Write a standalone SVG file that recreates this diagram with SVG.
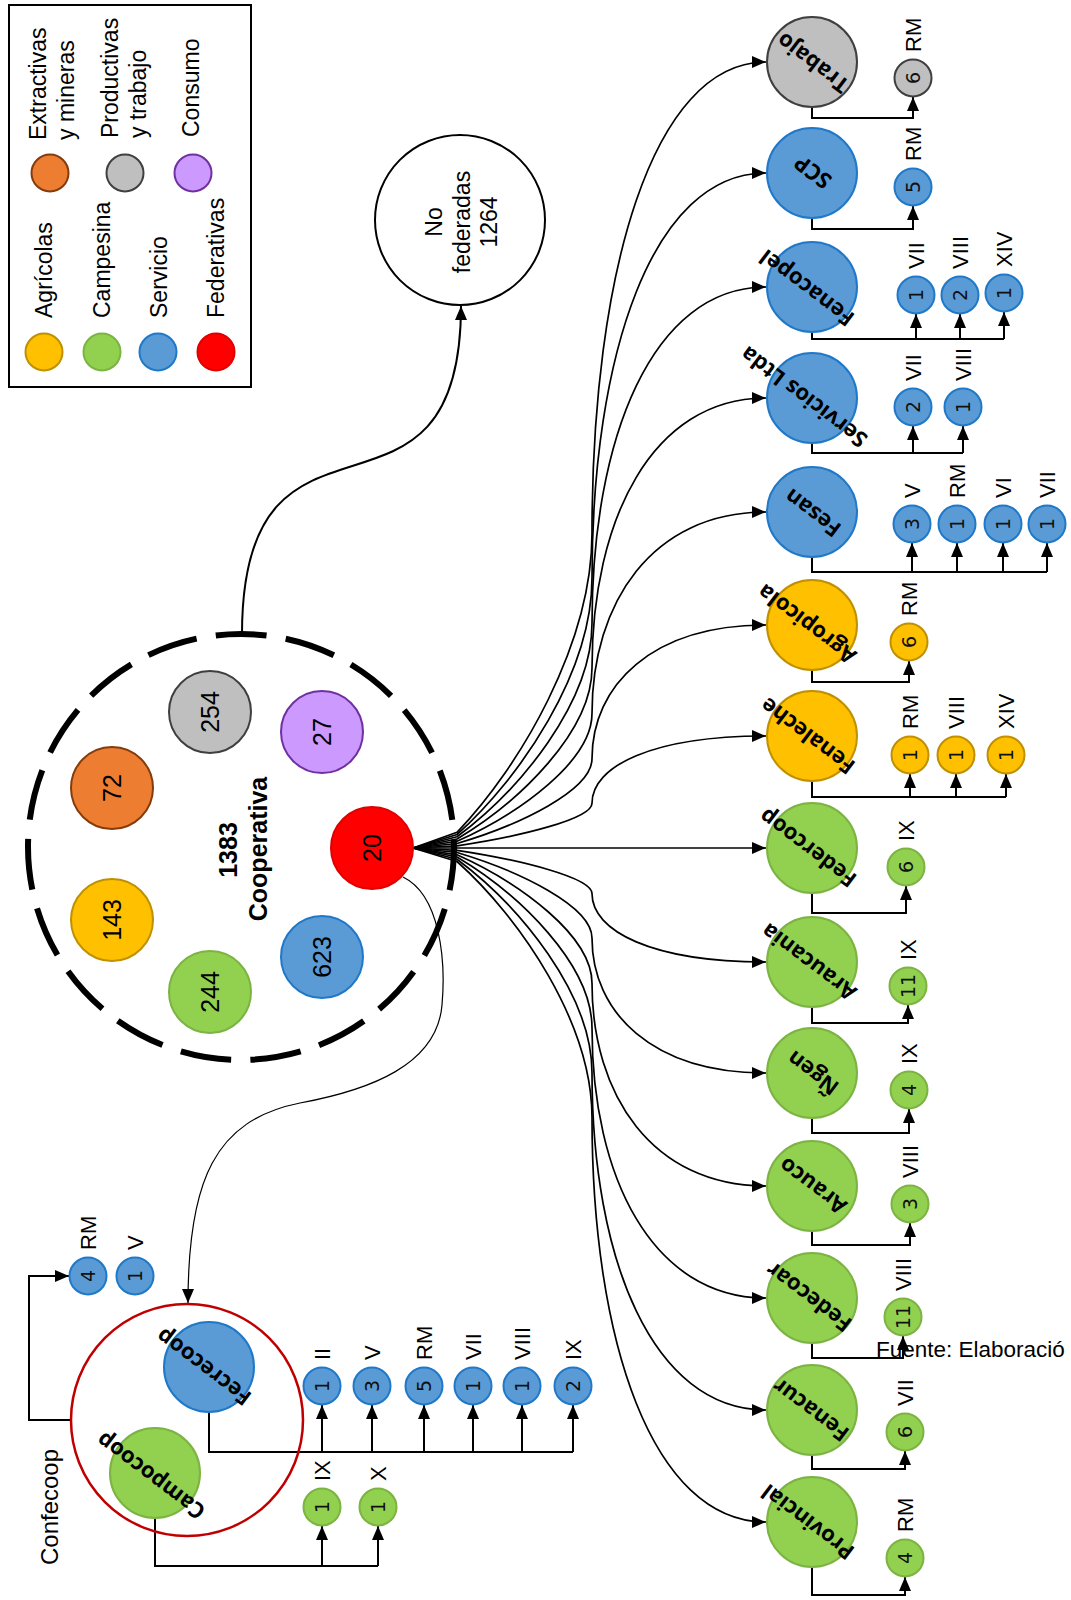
<svg xmlns="http://www.w3.org/2000/svg" width="1071" height="1600" viewBox="0 0 1071 1600">
<defs>
<marker id="ah" viewBox="0 0 14 12" refX="14" refY="6" markerWidth="14" markerHeight="12" markerUnits="userSpaceOnUse" orient="auto"><path d="M0,0 L14,6 L0,12 z" fill="#000"/></marker>
<style>
.yel{fill:#ffc000;stroke:#bf9000;stroke-width:2}
.grn{fill:#92d050;stroke:#7cb342;stroke-width:2}
.blu{fill:#5b9bd5;stroke:#1f78c8;stroke-width:2}
.red{fill:#ff0000;stroke:#e00000;stroke-width:2}
.org{fill:#ed7d31;stroke:#843c0c;stroke-width:2}
.gry{fill:#bfbfbf;stroke:#3f3f3f;stroke-width:2}
.pur{fill:#cc99ff;stroke:#7030a0;stroke-width:2}
.lbl{font-family:"Liberation Sans",Arial,sans-serif;font-size:22px;fill:#000}
.leg{font-family:"Liberation Sans",Arial,sans-serif;font-size:23px;fill:#000}
.num{font-family:"DejaVu Sans",sans-serif;font-size:19px;fill:#111;text-anchor:middle;dominant-baseline:central}
.inn{font-family:"Liberation Sans",Arial,sans-serif;font-size:25px;fill:#000;text-anchor:middle;dominant-baseline:central}
.big{font-family:"Open Sans","DejaVu Sans",sans-serif;font-weight:bold;font-size:22px;fill:#000;text-anchor:middle;dominant-baseline:central}
.cn{fill:none;stroke:#000;stroke-width:2}
.ar{fill:none;stroke:#000;stroke-width:2;marker-end:url(#ah)}
.fan{fill:none;stroke:#000;stroke-width:1.7;marker-end:url(#ah)}
</style>
</defs>
<rect width="1071" height="1600" fill="#fff"/>

<g id="legend">
<rect x="9" y="5" width="242" height="382" fill="#fff" stroke="#000" stroke-width="2"/>
<circle class="org" cx="50" cy="173" r="18.5"/>
<circle class="gry" cx="125" cy="173" r="18.5"/>
<circle class="pur" cx="193" cy="173" r="18.5"/>
<circle class="yel" cx="44" cy="352" r="18.5"/>
<circle class="grn" cx="102" cy="352" r="18.5"/>
<circle class="blu" cx="158" cy="352" r="18.5"/>
<circle class="red" cx="216" cy="352" r="18.5"/>
<text class="leg" transform="translate(46,140) rotate(-90)">Extractivas</text>
<text class="leg" transform="translate(74,140) rotate(-90)">y mineras</text>
<text class="leg" transform="translate(118,138) rotate(-90)">Productivas</text>
<text class="leg" transform="translate(146,138) rotate(-90)">y trabajo</text>
<text class="leg" transform="translate(199,137) rotate(-90)">Consumo</text>
<text class="leg" transform="translate(52,318) rotate(-90)">Agrícolas</text>
<text class="leg" transform="translate(110,318) rotate(-90)">Campesina</text>
<text class="leg" transform="translate(167,318) rotate(-90)">Servicio</text>
<text class="leg" transform="translate(224,318) rotate(-90)">Federativas</text>
</g>

<g id="connectors">
<path class="ar" d="M242,634 C242,370 461,560 461,306"/>
<path fill="none" stroke="#000" stroke-width="1.2" marker-end="url(#ah)" d="M403,877 C440,895 446,960 442,1005 C437,1065 370,1090 300,1103 C215,1120 188,1180 188,1303"/>
<path class="fan" d="M413,848 L457,832.3 C520,766.6 592,644.1 592,533.6 C592,274.2 652,62 766,62"/>
<path class="fan" d="M413,848 L457,834.5 C520,778.1 592,672.9 592,578 C592,355.2 652,173 766,173"/>
<path class="fan" d="M413,848 L457,836.8 C520,789.9 592,702.5 592,623.6 C592,438.5 652,287 766,287"/>
<path class="fan" d="M413,848 L457,839 C520,801.4 592,731.3 592,668 C592,519.5 652,398 766,398"/>
<path class="fan" d="M413,848 L457,841.3 C520,813.2 592,760.8 592,713.6 C592,602.7 652,512 766,512"/>
<path class="fan" d="M413,848 L457,843.5 C520,824.9 592,790.1 592,758.8 C592,685.2 652,625 766,625"/>
<path class="fan" d="M413,848 L457,845.8 C520,836.4 592,819 592,803.2 C592,766.2 652,736 766,736"/>
<path class="fan" d="M413,848 L766,848"/>
<path class="fan" d="M413,848 L457,850.3 C520,859.8 592,877.6 592,893.6 C592,931.2 652,962 766,962"/>
<path class="fan" d="M413,848 L457,852.5 C520,871.3 592,906.4 592,938 C592,1012.3 652,1073 766,1073"/>
<path class="fan" d="M413,848 L457,854.8 C520,883 592,935.7 592,983.2 C592,1094.7 652,1186 766,1186"/>
<path class="fan" d="M413,848 L457,857 C520,894.6 592,964.7 592,1028 C592,1176.5 652,1298 766,1298"/>
<path class="fan" d="M413,848 L457,859.2 C520,906.2 592,993.8 592,1072.8 C592,1258.3 652,1410 766,1410"/>
<path class="fan" d="M413,848 L457,861.5 C520,917.8 592,1022.8 592,1117.6 C592,1340 652,1522 766,1522"/>
<path class="ar" d="M812,107 V118 H913 V97"/>
<path class="ar" d="M812,218 V229 H913 V206"/>
<path class="cn" d="M812,332 V339 H1004"/>
<path class="ar" d="M916,339 V314"/><path class="ar" d="M960,339 V314"/><path class="ar" d="M1004,339 V312"/>
<path class="cn" d="M812,443 V453 H963"/>
<path class="ar" d="M913,453 V426"/><path class="ar" d="M963,453 V426"/>
<path class="cn" d="M812,557 V572 H1047"/>
<path class="ar" d="M912,572 V543"/><path class="ar" d="M957,572 V543"/><path class="ar" d="M1003,572 V543"/><path class="ar" d="M1047,572 V543"/>
<path class="ar" d="M812,670 V682 H909 V661"/>
<path class="cn" d="M812,781 V797 H1006"/>
<path class="ar" d="M910,797 V774"/><path class="ar" d="M956,797 V774"/><path class="ar" d="M1006,797 V774"/>
<path class="ar" d="M812,893 V913 H906 V886"/>
<path class="ar" d="M812,1007 V1023 H908 V1005"/>
<path class="ar" d="M812,1118 V1133 H909 V1109"/>
<path class="ar" d="M812,1231 V1245 H910 V1223"/>
<path class="ar" d="M812,1343 V1358 H903 V1336"/>
<path class="ar" d="M812,1455 V1469 H905 V1451"/>
<path class="ar" d="M812,1567 V1595 H905 V1577"/>
<path class="cn" d="M209,1412 V1452 H573"/>
<path class="ar" d="M322,1452 V1405"/><path class="ar" d="M372,1452 V1405"/><path class="ar" d="M424,1452 V1405"/><path class="ar" d="M473,1452 V1405"/><path class="ar" d="M522,1452 V1405"/><path class="ar" d="M573,1452 V1405"/>
<path class="cn" d="M155,1518 V1566 H378"/>
<path class="ar" d="M322,1566 V1526"/><path class="ar" d="M378,1566 V1526"/>
<path class="ar" d="M71,1420 H29 V1276 H69"/>
</g>

<g id="cooperativa">
<circle cx="241" cy="847" r="213" fill="none" stroke="#000" stroke-width="6" stroke-dasharray="51 19.4" stroke-dashoffset="7.6"/>
<text font-family="Liberation Sans, Arial, sans-serif" font-weight="bold" font-size="25" text-anchor="middle" transform="translate(237,850) rotate(-90)">1383</text>
<text font-family="Liberation Sans, Arial, sans-serif" font-weight="bold" font-size="25" text-anchor="middle" transform="translate(267,849) rotate(-90)">Cooperativa</text>
</g>
<g id="n254"><circle class="gry" cx="210" cy="712" r="41"/><text class="inn" transform="translate(210,712) rotate(-90)">254</text></g>
<g id="n27"><circle class="pur" cx="322" cy="732" r="41"/><text class="inn" transform="translate(322,732) rotate(-90)">27</text></g>
<g id="n72"><circle class="org" cx="112" cy="788" r="41"/><text class="inn" transform="translate(112,788) rotate(-90)">72</text></g>
<g id="n20"><circle class="red" cx="372" cy="848" r="41"/><text class="inn" transform="translate(372,848) rotate(-90)">20</text></g>
<g id="n143"><circle class="yel" cx="112" cy="920" r="41"/><text class="inn" transform="translate(112,920) rotate(-90)">143</text></g>
<g id="n623"><circle class="blu" cx="322" cy="957" r="41"/><text class="inn" transform="translate(322,957) rotate(-90)">623</text></g>
<g id="n244"><circle class="grn" cx="210" cy="992" r="41"/><text class="inn" transform="translate(210,992) rotate(-90)">244</text></g>

<g id="nofederadas">
<circle cx="460" cy="220" r="85" fill="#fff" stroke="#000" stroke-width="2"/>
<text class="leg" text-anchor="middle" transform="translate(442,222) rotate(-90)">No</text>
<text class="leg" text-anchor="middle" transform="translate(470,222) rotate(-90)">federadas</text>
<text class="leg" text-anchor="middle" transform="translate(497,222) rotate(-90)">1264</text>
</g>

<g id="trabajo"><circle class="gry" cx="812" cy="62" r="45"/><text class="big" transform="translate(812,64) rotate(217)">Trabajo</text></g>
<g id="trabajo-rm"><circle class="gry" cx="913" cy="78" r="18.5"/><text class="num" transform="translate(913,78) rotate(-90)">6</text><text class="lbl" transform="translate(921,52) rotate(-90)">RM</text></g>

<g id="scp"><circle class="blu" cx="812" cy="173" r="45"/><text class="big" transform="translate(812,173) rotate(217)">SCP</text></g>
<g id="scp-rm"><circle class="blu" cx="913" cy="187" r="18.5"/><text class="num" transform="translate(913,187) rotate(-90)">5</text><text class="lbl" transform="translate(921,161) rotate(-90)">RM</text></g>

<g id="fenacopel"><circle class="blu" cx="812" cy="287" r="45"/><text class="big" transform="translate(806,289) rotate(217)">Fenacopel</text></g>
<g id="fenacopel-vii"><circle class="blu" cx="916" cy="295" r="18.5"/><text class="num" transform="translate(916,295) rotate(-90)">1</text><text class="lbl" transform="translate(924,269) rotate(-90)">VII</text></g>
<g id="fenacopel-viii"><circle class="blu" cx="960" cy="295" r="18.5"/><text class="num" transform="translate(960,295) rotate(-90)">2</text><text class="lbl" transform="translate(968,269) rotate(-90)">VIII</text></g>
<g id="fenacopel-xiv"><circle class="blu" cx="1004" cy="293" r="18.5"/><text class="num" transform="translate(1004,293) rotate(-90)">1</text><text class="lbl" transform="translate(1012,267) rotate(-90)">XIV</text></g>

<g id="servicios"><circle class="blu" cx="812" cy="398" r="45"/><text class="big" transform="translate(803,398) rotate(217)">Servicios Ltda</text></g>
<g id="servicios-vii"><circle class="blu" cx="913" cy="407" r="18.5"/><text class="num" transform="translate(913,407) rotate(-90)">2</text><text class="lbl" transform="translate(921,381) rotate(-90)">VII</text></g>
<g id="servicios-viii"><circle class="blu" cx="963" cy="407" r="18.5"/><text class="num" transform="translate(963,407) rotate(-90)">1</text><text class="lbl" transform="translate(971,381) rotate(-90)">VIII</text></g>

<g id="fesan"><circle class="blu" cx="812" cy="512" r="45"/><text class="big" transform="translate(812,514) rotate(217)">Fesan</text></g>
<g id="fesan-v"><circle class="blu" cx="912" cy="524" r="18.5"/><text class="num" transform="translate(912,524) rotate(-90)">3</text><text class="lbl" transform="translate(920,498) rotate(-90)">V</text></g>
<g id="fesan-rm"><circle class="blu" cx="957" cy="524" r="18.5"/><text class="num" transform="translate(957,524) rotate(-90)">1</text><text class="lbl" transform="translate(965,498) rotate(-90)">RM</text></g>
<g id="fesan-vi"><circle class="blu" cx="1003" cy="524" r="18.5"/><text class="num" transform="translate(1003,524) rotate(-90)">1</text><text class="lbl" transform="translate(1011,498) rotate(-90)">VI</text></g>
<g id="fesan-vii"><circle class="blu" cx="1047" cy="524" r="18.5"/><text class="num" transform="translate(1047,524) rotate(-90)">1</text><text class="lbl" transform="translate(1055,498) rotate(-90)">VII</text></g>

<g id="agropicola"><circle class="yel" cx="812" cy="625" r="45"/><text class="big" transform="translate(806,625) rotate(217)">Agropicola</text></g>
<g id="agropicola-rm"><circle class="yel" cx="909" cy="642" r="18.5"/><text class="num" transform="translate(909,642) rotate(-90)">6</text><text class="lbl" transform="translate(917,616) rotate(-90)">RM</text></g>

<g id="fenaleche"><circle class="yel" cx="812" cy="736" r="45"/><text class="big" transform="translate(807,737) rotate(217)">Fenaleche</text></g>
<g id="fenaleche-rm"><circle class="yel" cx="910" cy="755" r="18.5"/><text class="num" transform="translate(910,755) rotate(-90)">1</text><text class="lbl" transform="translate(918,729) rotate(-90)">RM</text></g>
<g id="fenaleche-viii"><circle class="yel" cx="956" cy="755" r="18.5"/><text class="num" transform="translate(956,755) rotate(-90)">1</text><text class="lbl" transform="translate(964,729) rotate(-90)">VIII</text></g>
<g id="fenaleche-xiv"><circle class="yel" cx="1006" cy="755" r="18.5"/><text class="num" transform="translate(1006,755) rotate(-90)">1</text><text class="lbl" transform="translate(1014,729) rotate(-90)">XIV</text></g>

<g id="federcoop"><circle class="grn" cx="812" cy="848" r="45"/><text class="big" transform="translate(807,849) rotate(217)">Federcoop</text></g>
<g id="federcoop-ix"><circle class="grn" cx="906" cy="867" r="18.5"/><text class="num" transform="translate(906,867) rotate(-90)">6</text><text class="lbl" transform="translate(914,841) rotate(-90)">IX</text></g>

<g id="araucania"><circle class="grn" cx="812" cy="962" r="45"/><text class="big" transform="translate(808,963) rotate(217)">Araucania</text></g>
<g id="araucania-ix"><circle class="grn" cx="908" cy="986" r="18.5"/><text class="num" transform="translate(908,986) rotate(-90)">11</text><text class="lbl" transform="translate(916,960) rotate(-90)">IX</text></g>

<g id="ngen"><circle class="grn" cx="812" cy="1073" r="45"/><text class="big" transform="translate(812,1074) rotate(217)">Ñgen</text></g>
<g id="ngen-ix"><circle class="grn" cx="909" cy="1090" r="18.5"/><text class="num" transform="translate(909,1090) rotate(-90)">4</text><text class="lbl" transform="translate(917,1064) rotate(-90)">IX</text></g>

<g id="arauco"><circle class="grn" cx="812" cy="1186" r="45"/><text class="big" transform="translate(812,1187) rotate(217)">Arauco</text></g>
<g id="arauco-viii"><circle class="grn" cx="910" cy="1204" r="18.5"/><text class="num" transform="translate(910,1204) rotate(-90)">3</text><text class="lbl" transform="translate(918,1178) rotate(-90)">VIII</text></g>

<g id="fedecoar"><circle class="grn" cx="812" cy="1298" r="45"/><text class="big" transform="translate(808,1298) rotate(217)">Fedecoar</text></g>
<g id="fedecoar-viii"><circle class="grn" cx="903" cy="1317" r="18.5"/><text class="num" transform="translate(903,1317) rotate(-90)">11</text><text class="lbl" transform="translate(911,1291) rotate(-90)">VIII</text></g>

<g id="fenacur"><circle class="grn" cx="812" cy="1410" r="45"/><text class="big" transform="translate(810,1411) rotate(217)">Fenacur</text></g>
<g id="fenacur-vii"><circle class="grn" cx="905" cy="1432" r="18.5"/><text class="num" transform="translate(905,1432) rotate(-90)">6</text><text class="lbl" transform="translate(913,1406) rotate(-90)">VII</text></g>

<g id="provincial"><circle class="grn" cx="812" cy="1522" r="45"/><text class="big" transform="translate(807,1523) rotate(217)">Provincial</text></g>
<g id="provincial-rm"><circle class="grn" cx="905" cy="1558" r="18.5"/><text class="num" transform="translate(905,1558) rotate(-90)">4</text><text class="lbl" transform="translate(913,1532) rotate(-90)">RM</text></g>

<g id="confecoop">
<circle cx="187" cy="1420" r="116" fill="none" stroke="#c00000" stroke-width="2.5"/>
<text font-family="Liberation Sans, Arial, sans-serif" font-size="24" text-anchor="middle" transform="translate(58,1507) rotate(-90)">Confecoop</text>
</g>
<g id="fecrecoop"><circle class="blu" cx="209" cy="1367" r="45"/><text class="big" transform="translate(203,1368) rotate(217)">Fecrecoop</text></g>
<g id="campocoop"><circle class="grn" cx="155" cy="1473" r="45"/><text class="big" transform="translate(150,1477) rotate(217)">Campocoop</text></g>
<g id="confecoop-rm"><circle class="blu" cx="88" cy="1276" r="18.5"/><text class="num" transform="translate(88,1276) rotate(-90)">4</text><text class="lbl" transform="translate(96,1250) rotate(-90)">RM</text></g>
<g id="confecoop-v"><circle class="blu" cx="135" cy="1276" r="18.5"/><text class="num" transform="translate(135,1276) rotate(-90)">1</text><text class="lbl" transform="translate(143,1250) rotate(-90)">V</text></g>
<g id="fecrecoop-ii"><circle class="blu" cx="322" cy="1386" r="18.5"/><text class="num" transform="translate(322,1386) rotate(-90)">1</text><text class="lbl" transform="translate(330,1360) rotate(-90)">II</text></g>
<g id="fecrecoop-v"><circle class="blu" cx="372" cy="1386" r="18.5"/><text class="num" transform="translate(372,1386) rotate(-90)">3</text><text class="lbl" transform="translate(380,1360) rotate(-90)">V</text></g>
<g id="fecrecoop-rm"><circle class="blu" cx="424" cy="1386" r="18.5"/><text class="num" transform="translate(424,1386) rotate(-90)">5</text><text class="lbl" transform="translate(432,1360) rotate(-90)">RM</text></g>
<g id="fecrecoop-vii"><circle class="blu" cx="473" cy="1386" r="18.5"/><text class="num" transform="translate(473,1386) rotate(-90)">1</text><text class="lbl" transform="translate(481,1360) rotate(-90)">VII</text></g>
<g id="fecrecoop-viii"><circle class="blu" cx="522" cy="1386" r="18.5"/><text class="num" transform="translate(522,1386) rotate(-90)">1</text><text class="lbl" transform="translate(530,1360) rotate(-90)">VIII</text></g>
<g id="fecrecoop-ix"><circle class="blu" cx="573" cy="1386" r="18.5"/><text class="num" transform="translate(573,1386) rotate(-90)">2</text><text class="lbl" transform="translate(581,1360) rotate(-90)">IX</text></g>
<g id="campocoop-ix"><circle class="grn" cx="322" cy="1507" r="18.5"/><text class="num" transform="translate(322,1507) rotate(-90)">1</text><text class="lbl" transform="translate(330,1481) rotate(-90)">IX</text></g>
<g id="campocoop-x"><circle class="grn" cx="378" cy="1507" r="18.5"/><text class="num" transform="translate(378,1507) rotate(-90)">1</text><text class="lbl" transform="translate(386,1481) rotate(-90)">X</text></g>

<text font-family="Liberation Sans, Arial, sans-serif" font-size="22.5" x="876" y="1357">Fuente: Elaboració</text>
</svg>
